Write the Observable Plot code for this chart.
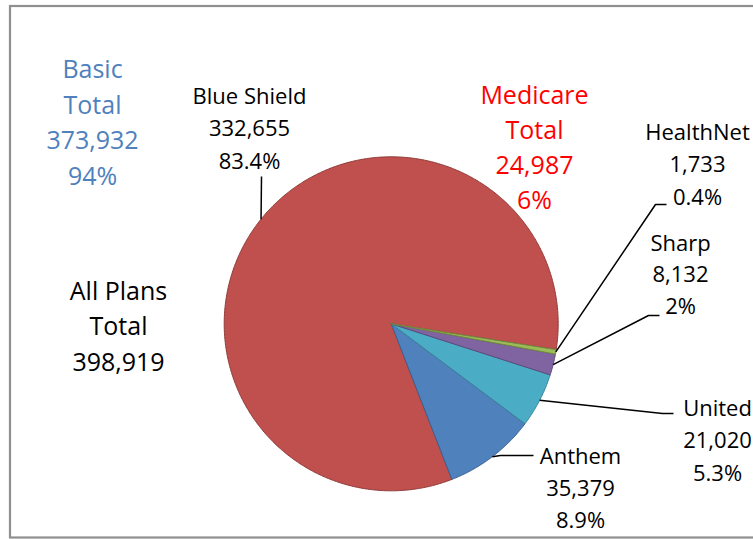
<!DOCTYPE html>
<html><head><meta charset="utf-8">
<script src="https://cdn.jsdelivr.net/npm/d3@7"></script>
<script src="https://cdn.jsdelivr.net/npm/@observablehq/plot@0.6"></script>
<style>html,body{margin:0;padding:0;background:#fff}#chart svg{display:block}</style>
</head><body><div id="chart"></div>
<script>
// ---- data ----
const plans = ["Blue Shield", "Anthem", "United", "Sharp", "HealthNet"];
const members = [332655, 35379, 21020, 8132, 1733];
const shareLabels = ["83.4%", "8.9%", "5.3%", "2%", "0.4%"];
const summaryNames = ["Basic", "Medicare", "All Plans"];
const summaryTotals = [373932, 24987, 398919];
const summaryShares = ["94%", "6%", null];

// ---- layout / style ----
const W = 753, H = 539;
const cx = 390.7, cy = 323.3, R = 167;
const startDeg = 458.9, endDeg = 98.9; // slices run counter-clockwise from here
const sliceFill = {"Blue Shield": "#C0504D", "Anthem": "#4F81BD", "United": "#4BACC6", "Sharp": "#8064A2", "HealthNet": "#9BBB59"};
const sliceStroke = {"Blue Shield": "#8E3A38", "Anthem": "#3A6192", "United": "#3A8499", "Sharp": "#5E4A7A", "HealthNet": "#71893F"};
const labelPos = {
  "Blue Shield": {x: 249, y: 103, gap: 32.5},
  "Anthem": {x: 580, y: 463, gap: 32},
  "United": {x: 717, y: 415, gap: 32.5},
  "Sharp": {x: 680, y: 250, gap: 31.5},
  "HealthNet": {x: 697, y: 139, gap: 32.5}
};
const leaderBends = {
  "Blue Shield": [[261, 176]],
  "Anthem": [[500, 455], [533, 455]],
  "United": [[662, 413], [673, 413]],
  "Sharp": [[648, 315], [659, 315]],
  "HealthNet": [[655, 204], [666, 204]]
};
const summaryPos = {
  "Basic": {x: 92, y: 77.3, gap: 35.7, color: "#4F81BD"},
  "Medicare": {x: 534, y: 103, gap: 35, color: "#FF0000"},
  "All Plans": {x: 118, y: 299, gap: 35.5, color: "#000000"}
};
const FONT = "Open Sans";
const fmt = d3.format(",");
const rad = (d) => d * Math.PI / 180;

// ---- geometry from data ----
const arcs = d3.pie().sort(null).startAngle(rad(startDeg)).endAngle(rad(endDeg))(members);
const pt = (a, r) => ({x: cx + r * Math.sin(a), y: cy - r * Math.cos(a)});

function slicePolygon(arc, name) {
  const pts = [{...pt(0, 0), name}];
  const n = Math.max(2, Math.ceil(Math.abs(arc.endAngle - arc.startAngle) / rad(0.5)));
  for (let k = 0; k <= n; ++k) {
    const a = arc.startAngle + (arc.endAngle - arc.startAngle) * k / n;
    pts.push({...pt(a, R), name});
  }
  pts.push({...pt(0, 0), name});
  return pts;
}

const leaders = plans.flatMap((p, i) => {
  const mid = (arcs[i].startAngle + arcs[i].endAngle) / 2;
  const s = pt(mid, R);
  return [{x: s.x, y: s.y, name: p}, ...leaderBends[p].map(([x, y]) => ({x, y, name: p}))];
});

const sliceText = plans.flatMap((p, i) =>
  [p, fmt(members[i]), shareLabels[i]].map((t, k) => ({t, x: labelPos[p].x, y: labelPos[p].y + k * labelPos[p].gap})));

const summaryText = summaryNames.flatMap((n, i) => {
  const L = summaryPos[n];
  return [n, "Total", fmt(summaryTotals[i]), summaryShares[i]].filter((t) => t != null)
    .map((t, k) => ({t, x: L.x, y: L.y + k * L.gap, color: L.color}));
});

const chart = Plot.plot({
  width: W, height: H, margin: 0,
  x: {domain: [0, W], range: [0, W], axis: null},
  y: {domain: [0, H], range: [0, H], axis: null},
  style: {background: "#fff"},
  marks: [
    Plot.rect([0], {x1: () => 10, x2: () => W + 10, y1: () => 6, y2: () => 537.5, fill: "none", stroke: "#8f8f8f", strokeWidth: 2.2}),
    ...plans.map((p, i) => Plot.line(slicePolygon(arcs[i], p), {x: "x", y: "y", fill: sliceFill[p], stroke: sliceStroke[p], strokeWidth: 1, strokeLinejoin: "miter"})),
    Plot.line(leaders, {x: "x", y: "y", z: "name", stroke: "#000", strokeWidth: 1.5, strokeLinejoin: "miter", strokeLinecap: "butt"}),
    Plot.text(sliceText, {x: "x", y: "y", text: "t", fill: "#000", fontSize: 22, fontFamily: FONT, textAnchor: "middle", lineAnchor: "bottom"}),
    Plot.text(summaryText, {x: "x", y: "y", text: "t", fill: "color", fontSize: 25, fontFamily: FONT, textAnchor: "middle", lineAnchor: "bottom"})
  ]
});
document.getElementById("chart").append(chart);
</script>
</body></html>
